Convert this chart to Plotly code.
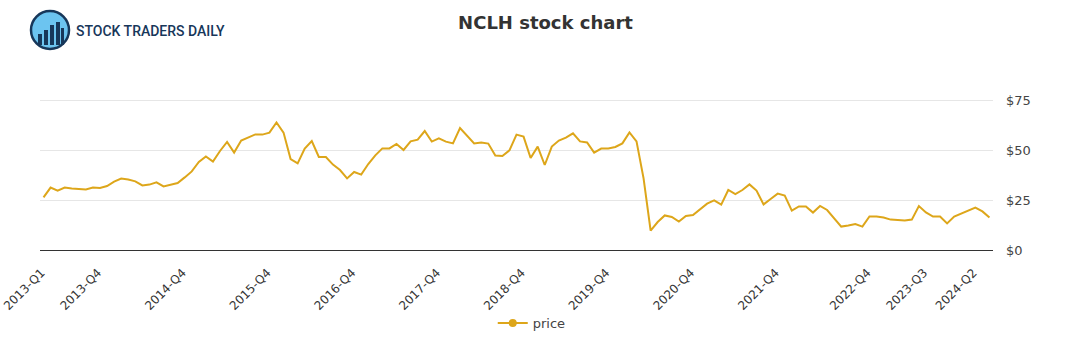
import plotly.graph_objects as go

# ---- data ----
idx = list(range(135))
price = [
    26.3, 31.2, 29.7, 31.2, 30.8, 30.5, 30.3, 31.2, 31.0, 32.0,
    34.2, 35.7, 35.2, 34.3, 32.3, 32.7, 33.8, 31.8, 32.8, 33.5,
    36.3, 39.3, 44.0, 46.8, 44.2, 49.5, 54.0, 48.7, 54.7, 56.2,
    57.8, 57.7, 58.7, 63.8, 58.7, 45.5, 43.3, 50.7, 54.5, 46.5,
    46.5, 42.7, 40.0, 35.8, 39.0, 37.7, 43.0, 47.3, 50.8, 50.8,
    53.0, 50.0, 54.3, 55.2, 59.5, 54.2, 55.8, 54.2, 53.3, 61.0,
    57.2, 53.3, 53.7, 53.2, 47.2, 47.0, 49.8, 57.7, 56.7, 46.0,
    51.7, 42.5, 51.7, 54.7, 56.2, 58.3, 54.3, 53.8, 48.7, 50.7,
    50.8, 51.5, 53.3, 58.8, 54.3, 35.8, 9.7, 14.0, 17.3, 16.5,
    14.2, 17.0, 17.5, 20.3, 23.2, 24.8, 22.7, 30.0, 28.0, 30.0,
    32.8, 29.7, 22.8, 25.5, 28.2, 27.2, 19.7, 21.8, 21.8, 18.7,
    22.0, 20.0, 15.8, 11.7, 12.2, 13.0, 11.7, 16.8, 16.7, 16.2,
    15.2, 15.0, 14.7, 15.2, 22.0, 18.8, 16.7, 16.7, 13.3, 16.7,
    18.2, 19.7, 21.2, 19.3, 16.2,
]
tick_pos = [0, 8, 20, 32, 44, 56, 68, 80, 92, 104, 117, 125, 132]
tick_labels = ["2013-Q1", "2013-Q4", "2014-Q4", "2015-Q4", "2016-Q4", "2017-Q4",
               "2018-Q4", "2019-Q4", "2020-Q4", "2021-Q4", "2022-Q4", "2023-Q3", "2024-Q2"]
y_ticks = [0, 25, 50, 75]
y_labels = ["$0", "$25", "$50", "$75"]

LINE = "#DDA61A"
NAVY = "#17375a"

fig = go.Figure()
fig.add_trace(go.Scatter(
    x=idx, y=price, mode="lines", name="price", showlegend=False,
    line=dict(color=LINE, width=2),
))
# legend entry (line with dot), no data of its own
fig.add_trace(go.Scatter(
    x=[None], y=[None], mode="lines+markers", name="price",
    line=dict(color=LINE, width=2), marker=dict(color=LINE, size=8),
))

fig.update_layout(
    width=1091, height=350,
    margin=dict(l=40, r=98, t=50, b=100, autoexpand=False),
    paper_bgcolor="white", plot_bgcolor="white",
    font=dict(family="DejaVu Sans", size=13, color="#444"),
    title=dict(text="<b>NCLH stock chart</b>", x=0.5, xanchor="center", y=0.935,
               yanchor="middle", font=dict(family="DejaVu Sans", size=18, color="#333")),
    showlegend=True,
    legend=dict(orientation="h", x=0.516, xanchor="center", y=-0.29, yanchor="top",
                font=dict(size=13, color="#444")),
    xaxis=dict(
        range=[-0.5, 134.5], tickmode="array", tickvals=tick_pos, ticktext=tick_labels,
        tickangle=-45, showgrid=False, zeroline=False, showline=True, automargin=False,
        linecolor="#333", linewidth=1, ticks="", tickfont=dict(size=12, color="#333"),
        ticklabelstandoff=10, ticklabelshift=-2, ticklabeloverflow="allow",
    ),
    yaxis=dict(
        range=[0, 100], side="right", tickmode="array", tickvals=y_ticks, ticktext=y_labels,
        showgrid=True, gridcolor="#e6e6e6", zeroline=False, showline=False, automargin=False,
        ticks="", tickfont=dict(size=13, color="#444"), ticklabelstandoff=12,
    ),
)

# logo (decorative)
def px(x):
    return (x - 40) / 953.0

def py(y):
    return (250 - y) / 200.0

shapes = [
    dict(type="circle", xref="paper", yref="paper",
         x0=px(31), x1=px(69), y0=py(49), y1=py(11),
         fillcolor="#6cc4f0", line=dict(color=NAVY, width=2.5)),
]
for bx0, bx1, top in [(38, 42, 34), (44, 48, 30), (50, 54, 25), (56, 60, 22), (61, 64, 28)]:
    shapes.append(dict(type="rect", xref="paper", yref="paper",
                       x0=px(bx0), x1=px(bx1), y0=py(45), y1=py(top),
                       fillcolor=NAVY, line=dict(width=0)))
fig.update_layout(shapes=shapes)
fig.add_annotation(text="STOCK TRADERS DAILY", xref="paper", yref="paper",
                   x=px(74), y=py(31), xanchor="left", yanchor="middle",
                   showarrow=False,
                   font=dict(family="Roboto", size=14, color=NAVY, weight=500))

fig.write_html("out.html")
